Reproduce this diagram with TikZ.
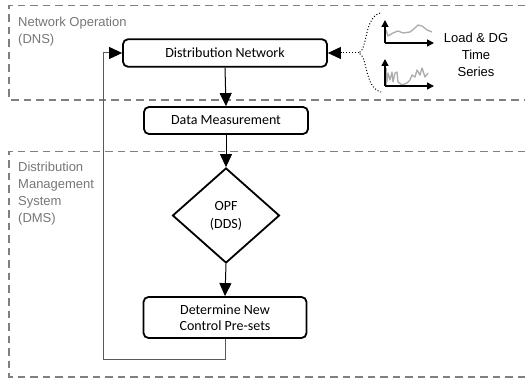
\documentclass[tikz,border=0pt]{standalone}
\usepackage{fontspec}
\setmainfont{Liberation Sans}
\newfontfamily\boxfont{Carlito}
\usetikzlibrary{arrows.meta,shapes.geometric}
\definecolor{regionline}{HTML}{808080}
\definecolor{regiontext}{HTML}{767676}
\definecolor{loopline}{HTML}{5A5A5A}
\definecolor{seriesline}{HTML}{ABABAB}
\tikzset{
  region/.style={draw=regionline, line width=1.5pt, dash pattern=on 7.5pt off 5pt},
  regionlabel/.style={anchor=west, align=left, text=regiontext, font=\fontsize{13}{17}\selectfont, inner sep=0pt},
  procbox/.style={draw, line width=1.8pt, rounded corners=5pt, font=\boxfont\fontsize{14}{16.5}\selectfont, align=center, inner sep=0pt},
  decision/.style={draw, diamond, line width=1.8pt, font=\boxfont\fontsize{14}{18}\selectfont, align=center, inner sep=0pt},
  flow/.style={line width=1pt, -{Triangle[length=13pt,width=12pt,color=black]}},
  axis/.style={line width=1.5pt, -{Triangle[length=7pt,width=7pt]}},
  series/.style={draw=seriesline, line width=1.3pt, line join=round}
}
\begin{document}
\begin{tikzpicture}[x=1pt,y=-1pt]
\useasboundingbox (0,0) rectangle (525,382);

% operating regions (open to the right)
\draw[region] (525,5.5) -- (9,5.5) -- (9,100) -- (525,100);
\draw[region] (525,151.5) -- (9,151.5) -- (9,377) -- (525,377);
\node[regionlabel] (dnslabel) at (18,31.5) {Network Operation\\(DNS)};
\node[regionlabel] (dmslabel) at (18,193.5) {Distribution\\Management\\System\\(DMS)};

% process steps
\node[procbox, minimum width=204pt, minimum height=27.5pt] (dn) at (225,53) {Distribution Network};
\node[procbox, minimum width=164pt, minimum height=27pt] (dm) at (226,120.5) {Data Measurement};
\node[decision, minimum width=107pt, minimum height=95pt] (opf) at (226,215.5) {OPF\\(DDS)};
\node[procbox, minimum width=163pt, minimum height=41pt] (det) at (225,317.5) {Determine New\\Control Pre-sets};

\draw[flow] (dn.south) -- (dm.north);
\draw[flow] (dm.south) -- (opf.north);
\draw[flow] (opf.south) -- (det.north);

% feedback of the new pre-sets to the network
\coordinate (fb) at (103.5,359);
\draw[flow, draw=loopline] (det.south) |- (fb) |- (dn.west);

% time series input
\coordinate (junction) at (359,53);
\draw[line width=1pt, dotted, -{Triangle[length=13pt,width=12pt]}] (junction) -- (dn.east);
\draw[line width=1pt, dotted] (380,13) .. controls (364,18) and (368,48) .. (junction)
  .. controls (368,57) and (364,87) .. (381,92);

% upper chart
\coordinate (o1) at (385,43);
\draw[series] (386,30) -- (388,36) -- (393,33) -- (398,31) -- (403,33) -- (410,32)
  -- (415,28) -- (418,25) -- (422,26) -- (427,30) -- (432,32);
\draw[axis] (o1) -- (385,20);
\draw[axis] (o1) -- (434,43);

% lower chart
\coordinate (o2) at (385,86);
\draw[series] (386,68) -- (386,86);
\draw[series] (387,82) -- (388,73) -- (390,80) -- (392,72) -- (393,82) -- (395,73) -- (397,72)
  -- (398,82) -- (402,85) -- (407,83) -- (410,80) -- (412,75) -- (415,77) -- (417,70)
  -- (420,75) -- (422,68) -- (425,77) -- (428,73);
\draw[axis] (o2) -- (385,59);
\draw[axis] (o2) -- (434,86);

\node[font=\fontsize{13}{17}\selectfont, align=center, inner sep=0pt] (tslabel) at (476,55) {Load \& DG\\Time\\Series};
\end{tikzpicture}
\end{document}
